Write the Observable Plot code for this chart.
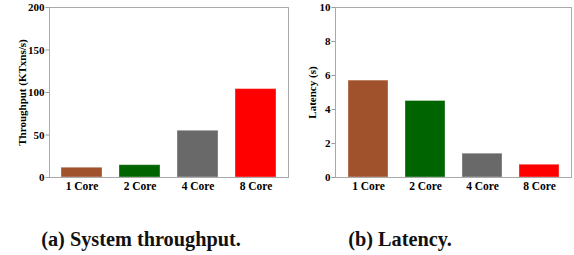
<!DOCTYPE html>
<html>
<head>
<meta charset="utf-8">
<script src="https://cdn.jsdelivr.net/npm/d3@7"></script>
<script src="https://cdn.jsdelivr.net/npm/@observablehq/plot@0.6"></script>
<style>
  body { margin: 0; background: #fff; }
  #fig { position: relative; width: 574px; height: 255px; overflow: hidden; }
  .panel { position: absolute; top: 0; }
  .panel, .panel text { font-family: "Liberation Serif", "Times New Roman", "DejaVu Serif", serif !important; }
  .cap { position: absolute; top: 229px; line-height: 1; font-family: "Liberation Serif", "Times New Roman", "DejaVu Serif", serif; font-weight: bold; font-size: 20.3px; color: #111; white-space: nowrap; transform: translateX(-50%); }
</style>
</head>
<body>
<div id="fig"></div>
<script>
const cores = ["1 Core", "2 Core", "4 Core", "8 Core"];
const throughput = [11.5, 14.5, 55, 104];
const latency = [5.7, 4.5, 1.4, 0.75];
const colors = ["#A0522D", "#006400", "#696969", "#FF0000"];
const throughputTicks = [0, 50, 100, 150, 200];
const latencyTicks = [0, 2, 4, 6, 8, 10];
const serif = "'Liberation Serif', 'Times New Roman', 'DejaVu Serif', serif";

function panel(values, yDomain, yTicks, yLabel, width, marginLeft, marginRight, labelOffset) {
  const data = cores.map((c, i) => ({core: c, value: values[i], color: colors[i]}));
  return Plot.plot({
    width, height: 200,
    marginTop: 7, marginBottom: 23, marginLeft, marginRight,
    style: {fontFamily: serif, fontSize: "11.5px", fontWeight: "bold", color: "#000", background: "#fff"},
    x: {domain: cores, paddingInner: 0.3, paddingOuter: 0.2},
    y: {domain: yDomain},
    marks: [
      Plot.barY(data, {x: "core", y: "value", fill: "color", stroke: "white", strokeOpacity: 0.35, strokeWidth: 1}),
      Plot.frame({stroke: "#aaa"}),
      Plot.axisY(yTicks, {tickSize: 3.5, stroke: "#999", tickPadding: 1.5, fontSize: 11, label: null}),
      Plot.axisY({ticks: [], tickSize: 0, label: yLabel, labelAnchor: "center", labelArrow: "none", labelOffset, fontSize: 11}),
      Plot.axisX({tickSize: 0, tickPadding: 4, label: null, fontSize: 11.5})
    ]
  });
}

const fig = document.getElementById("fig");
const a = panel(throughput, [0, 200], throughputTicks, "Throughput (KTxns/s)", 290, 49, 2, 31.5);
a.classList.add("panel"); a.style.left = "0px";
const b = panel(latency, [0, 10], latencyTicks, "Latency (s)", 284, 45, 3, 27);
b.classList.add("panel"); b.style.left = "290px";
fig.appendChild(a); fig.appendChild(b);

const ca = document.createElement("div"); ca.className = "cap"; ca.style.left = "141px"; ca.textContent = "(a) System throughput."; fig.appendChild(ca);
const cb = document.createElement("div"); cb.className = "cap"; cb.style.left = "400px"; cb.textContent = "(b) Latency."; fig.appendChild(cb);
</script>
</body>
</html>
